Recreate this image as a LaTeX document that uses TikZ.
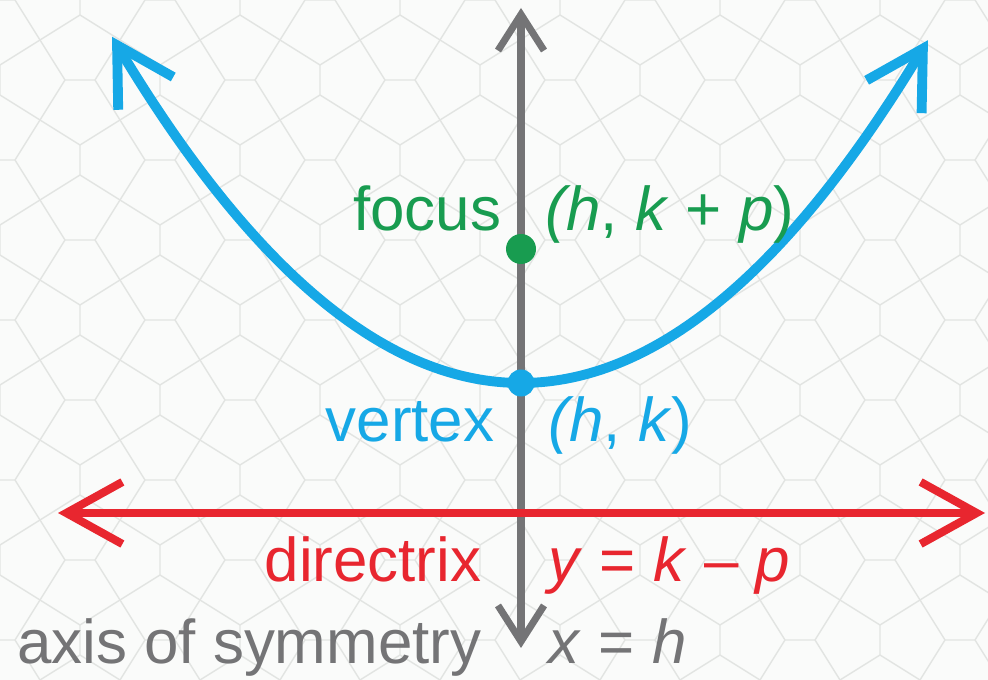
\documentclass[tikz,border=0pt]{standalone}
\usepackage{fontspec}
\setmainfont{Liberation Sans}
\usetikzlibrary{arrows.meta, positioning}
\definecolor{curveblue}{RGB}{22,168,230}
\definecolor{focusgreen}{RGB}{24,156,80}
\definecolor{directred}{RGB}{232,38,47}
\definecolor{axisgray}{RGB}{116,116,118}
\definecolor{bgpaper}{RGB}{250,251,250}
\definecolor{tilegray}{RGB}{226,228,226}

\begin{document}
\begin{tikzpicture}[x=0.01cm, y=-0.01cm,
    lbl/.style={inner sep=0pt, font=\fontsize{17.6}{21}\selectfont},
    dot/.style={circle, inner sep=0pt, minimum size=0.28cm},
    tile/.style={draw=tilegray, line width=0.4pt},
    axisline/.style={draw=axisgray, line width=2pt,
        {Straight Barb[length=0.36cm, width=0.46cm]}-{Straight Barb[length=0.36cm, width=0.46cm]}},
    redline/.style={draw=directred, line width=2.3pt,
        {Straight Barb[length=0.56cm, width=0.62cm]}-{Straight Barb[length=0.56cm, width=0.62cm]}},
    curve/.style={draw=curveblue, line width=2.8pt,
        {Straight Barb[length=0.56cm, width=0.64cm]}-{Straight Barb[length=0.56cm, width=0.64cm]}}]
    % paper with a faint pentagon tiling
    \fill[bgpaper] (0,0) rectangle (988,680);
    \useasboundingbox (0,0) rectangle (988,680);
    \begin{scope}
        \clip (0,0) rectangle (988,680);
        \foreach \i in {0,...,13}
            \foreach \j in {0,...,9} {
                \pgfmathtruncatemacro\cellpar{mod(\i+\j,2)}
                \ifnum\cellpar=0
                    \draw[tile] (\i*80-40,\j*80-40) -- (\i*80-15,\j*80) -- (\i*80-40,\j*80+40)
                        (\i*80+40,\j*80-40) -- (\i*80+15,\j*80) -- (\i*80+40,\j*80+40)
                        (\i*80-15,\j*80) -- (\i*80+15,\j*80);
                \else
                    \draw[tile] (\i*80-40,\j*80-40) -- (\i*80,\j*80-15) -- (\i*80+40,\j*80-40)
                        (\i*80-40,\j*80+40) -- (\i*80,\j*80+15) -- (\i*80+40,\j*80+40)
                        (\i*80,\j*80-15) -- (\i*80,\j*80+15);
                \fi
            }
    \end{scope}
    % axis of symmetry
    \coordinate (axtop) at (521,8);
    \coordinate (axbot) at (521,648);
    \path[axisline] (axbot) -- (axtop);
    % directrix
    \coordinate (dirleft) at (58,513);
    \coordinate (dirright) at (985,513);
    \path[redline] (dirleft) -- (dirright);
    % parabola
    \path[curve] plot[domain=-4.09:4.07, samples=80, smooth] ({521+100*\x},{383-20.7*\x*\x});
    \node[dot, fill=curveblue, minimum size=0.27cm] (vertex) at (521,383) {};
    \node[dot, fill=focusgreen, minimum size=0.3cm] (focus) at (521,249) {};
    % labels
    \node[lbl, text=focusgreen, anchor=base east] (focuslbl) at (502,231) {focus};
    \node[lbl, text=focusgreen, anchor=base west] (focuseq) at (545,231) {\textit{(h}, \textit{k} + \textit{p})};
    \node[lbl, text=curveblue, anchor=base east] (vertexlbl) at (495,442) {vertex};
    \node[lbl, text=curveblue, anchor=base west] (vertexeq) at (548,442) {\textit{(h}, \textit{k})};
    \node[lbl, text=directred, anchor=base east] (dirlbl) at (482,582) {directrix};
    \node[lbl, text=directred, anchor=base west] (direq) at (548,582) {\textit{y} = \textit{k} \textendash{} \textit{p}};
    \node[lbl, text=axisgray, anchor=base east] (axislbl) at (482,664) {axis of symmetry};
    \node[lbl, text=axisgray, anchor=base west] (axiseq) at (548,664) {\textit{x} = \textit{h}};
\end{tikzpicture}
\end{document}
